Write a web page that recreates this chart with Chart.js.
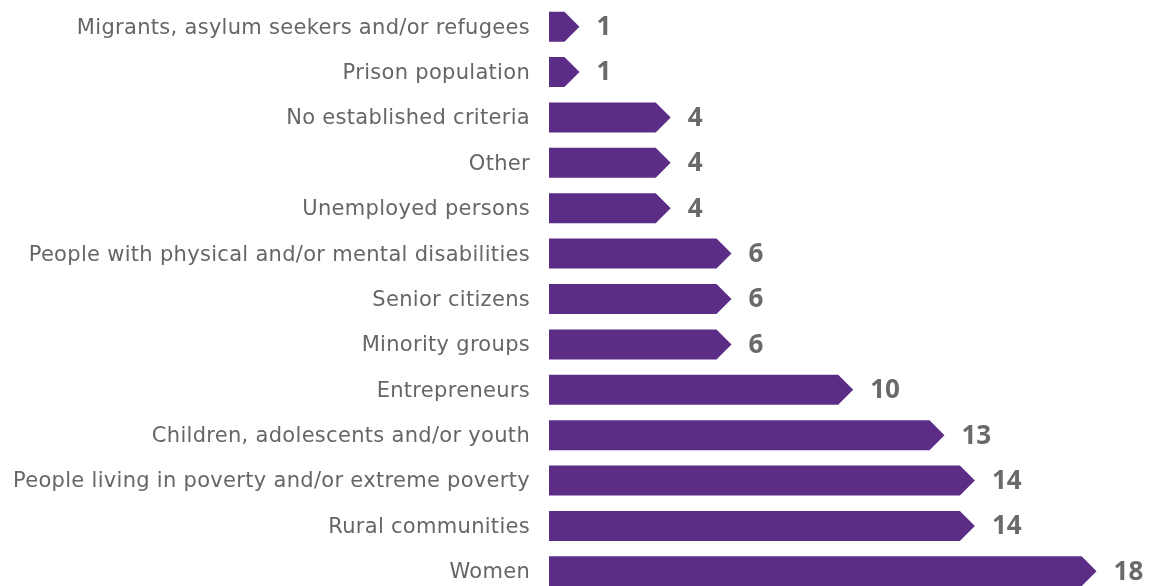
<!DOCTYPE html>
<html>
<head>
<meta charset="utf-8">
<script src="https://cdn.jsdelivr.net/npm/chart.js"></script>
<style>
  html, body { margin: 0; padding: 0; background: #fff; overflow: hidden; }
  #wrap { position: absolute; left: 0; top: 0; width: 1152px; height: 594px; }
</style>
</head>
<body>
<div id="wrap"><canvas id="myChart"></canvas></div>
<script>
const categories = [
  "Migrants, asylum seekers and/or refugees",
  "Prison population",
  "No established criteria",
  "Other",
  "Unemployed persons",
  "People with physical and/or mental disabilities",
  "Senior citizens",
  "Minority groups",
  "Entrepreneurs",
  "Children, adolescents and/or youth",
  "People living in poverty and/or extreme poverty",
  "Rural communities",
  "Women"
];
const counts = [1, 1, 4, 4, 4, 6, 6, 6, 10, 13, 14, 14, 18];

const purple = "#5b2d87";
const grey = "#6a6a6a";

// the category labels in the original are set in a wide font, so spread them a little
// and nudge them down to sit centred on the bars
const wideLabels = {
  id: "wideLabels",
  beforeDraw(chart) {
    chart.ctx.letterSpacing = "0.3px";
    chart.ctx.translate(0, 1.5);
  },
  beforeDatasetsDraw(chart) {
    chart.ctx.letterSpacing = "0px";
    chart.ctx.translate(0, -1.5);
  }
};

// draws each bar as an arrow, using the bar element geometry from the scales
const arrowBars = {
  id: "arrowBars",
  afterDatasetsDraw(chart) {
    const ctx = chart.ctx;
    const meta = chart.getDatasetMeta(0);
    ctx.save();
    meta.data.forEach((bar, i) => {
      const half = bar.height / 2;
      const x0 = bar.base, x1 = bar.x, y = bar.y;
      const head = Math.min(half, x1 - x0);
      ctx.fillStyle = purple;
      ctx.beginPath();
      ctx.moveTo(x0, y - half);
      ctx.lineTo(x1 - head, y - half);
      ctx.lineTo(x1, y);
      ctx.lineTo(x1 - head, y + half);
      ctx.lineTo(x0, y + half);
      ctx.closePath();
      ctx.fill();
      ctx.fillStyle = grey;
      ctx.font = "bold 26px 'Open Sans'";
      ctx.textAlign = "left";
      ctx.textBaseline = "middle";
      ctx.fillText(String(counts[i]), x1 + 17, y + 1);
    });
    ctx.restore();
  }
};

new Chart(document.getElementById("myChart"), {
  type: "bar",
  data: {
    labels: categories,
    datasets: [{
      data: counts,
      backgroundColor: "rgba(0,0,0,0)",
      borderWidth: 0,
      barThickness: 30
    }]
  },
  options: {
    indexAxis: "y",
    responsive: true,
    maintainAspectRatio: false,
    animation: false,
    layout: { padding: { top: 4, right: 25, bottom: 0, left: 0 } },
    plugins: { legend: { display: false }, tooltip: { enabled: false } },
    scales: {
      x: {
        min: 0, max: 19,
        display: false
      },
      y: {
        grid: { display: false, drawTicks: false },
        border: { display: false },
        ticks: {
          color: "#666",
          padding: 19,
          font: { family: "'DejaVu Sans'", size: 21 }
        },
        afterFit(scale) {
          scale.width = 549;
          scale.paddingTop = 0;
          scale.paddingBottom = 0;
        }
      }
    }
  },
  plugins: [wideLabels, arrowBars]
});
</script>
</body>
</html>
